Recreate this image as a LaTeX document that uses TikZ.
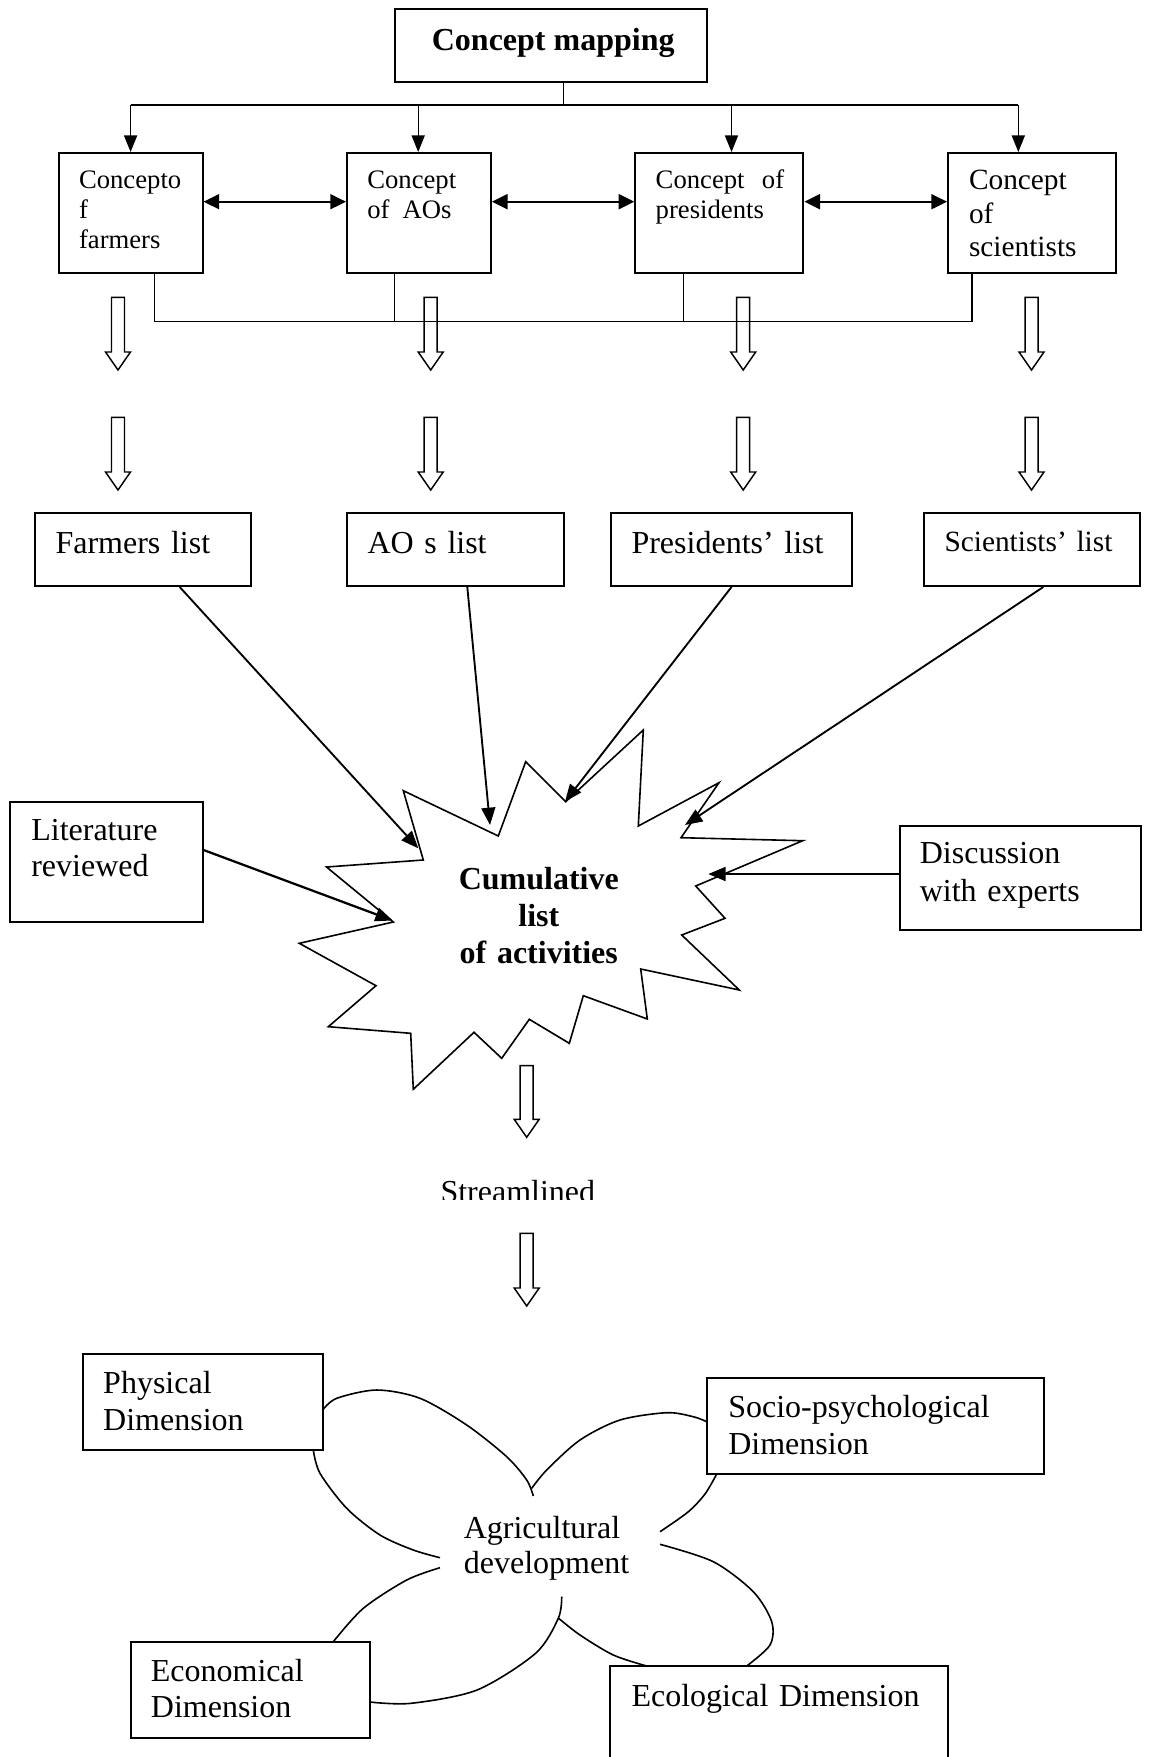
\documentclass[tikz,border=0pt]{standalone}
\usepackage{fontspec}
\setmainfont{Liberation Serif}
\usetikzlibrary{arrows.meta}

% rectangle node from its two corners (picture units)
\newcommand\boxat[5]{%
  \pgfmathsetmacro\bxw{(#4-#2)*0.375}%
  \pgfmathsetmacro\bxh{(#5-#3)*0.375}%
  \node[box, minimum width=\bxw pt, minimum height=\bxh pt] (#1) at ({(#2+#4)/2},{(#3+#5)/2}) {};}

% hollow block arrow pointing down: x, top, tip
\newcommand\hollowarrow[3]{%
  \draw[hollow] ({#1-6.5},#2) -- ({#1+6.5},#2) -- ({#1+6.5},{#3-18}) -- ({#1+12.5},{#3-18})
    -- (#1,#3) -- ({#1-12.5},{#3-18}) -- ({#1-6.5},{#3-18}) -- cycle;}

\begin{document}
\begin{tikzpicture}[x=0.375pt,y=-0.375pt,
  box/.style={draw, line width=0.75pt, fill=white, rectangle, inner sep=0pt},
  txt/.style={inner sep=0pt, anchor=base west, align=left, text width=300pt},
  f10/.style={font=\fontsize{10pt}{11.3pt}\selectfont},
  f11/.style={font=\fontsize{11pt}{12.5pt}\selectfont},
  f12/.style={font=\fontsize{12pt}{13.8pt}\selectfont},
  thin/.style={line width=0.5pt},
  drop/.style={line width=0.5pt, -{Triangle[length=6.2pt,width=4.9pt]}},
  dbl/.style={line width=0.85pt, {Triangle[length=5.9pt,width=5.6pt]}-{Triangle[length=5.9pt,width=5.6pt]}},
  feed/.style={line width=0.7pt, -{Triangle[length=6.5pt,width=5.2pt]}},
  heavyfeed/.style={line width=0.85pt, -{Triangle[length=6.5pt,width=5.2pt]}},
  hollow/.style={line width=0.55pt},
  burst/.style={line width=0.6pt, line join=miter},
  petal/.style={line width=0.6pt}]

\useasboundingbox (0,0) rectangle (1149,1757);
\fill[white] (0,0) rectangle (1149,1757);
\clip (0,0) rectangle (1149,1757);

% ---------- top: concept mapping ----------
\boxat{cm}{394.7}{9.3}{706.5}{81.7}
\node[inner sep=0pt, anchor=base, font=\bfseries\fontsize{12pt}{13.8pt}\selectfont] (t-cm) at (553.2,51) {Concept mapping};

\boxat{c1}{58.7}{153}{202.5}{273.3}
\boxat{c2}{347}{153}{490.8}{273.3}
\boxat{c3}{635.4}{153}{803.4}{273.3}
\boxat{c4}{948}{153}{1116}{273.3}

\node[txt,f10] (t-c1) at (78.5,188.3) {Concepto\\f\\farmers};
\node[txt,f10] (t-c2) at (366.8,188.3) {Concept\\of\hspace{4.9pt}AOs};
\node[txt,f10] (t-c3) at (655.2,188.3) {Concept\hspace{6.5pt}of\\presidents};
\node[txt,f11] (t-c4) at (968.5,190) {Concept\\of\\scientists};

% branching from the concept mapping box
\coordinate (bus) at (563.5,105);
\coordinate (b1) at (130.6,105);
\coordinate (b2) at (418.2,105);
\coordinate (b3) at (731.5,105);
\coordinate (b4) at (1018.3,105);
\draw[thin] (cm.south -| bus) -- (bus);
\draw[thin] (b1) -- (b4);
\draw[drop] (b1) -- (c1.north -| b1);
\draw[drop] (b2) -- (c2.north -| b2);
\draw[drop] (b3) -- (c3.north -| b3);
\draw[drop] (b4) -- (c4.north -| b4);

% links between neighbouring concepts
\draw[dbl] (c1.east |- 0,201.7) -- (c2.west |- 0,201.7);
\draw[dbl] (c2.east |- 0,201.7) -- (c3.west |- 0,201.7);
\draw[dbl] (c3.east |- 0,201.7) -- (c4.west |- 0,201.7);

% joint line under the concepts
\coordinate (j1) at (154.8,321.7);
\coordinate (j2) at (394.7,321.7);
\coordinate (j3) at (683.8,321.7);
\coordinate (j4) at (972,321.7);
\draw[thin] (c1.south -| j1) -- (j1) -- (j4) -- (c4.south -| j4);
\draw[thin] (c2.south -| j2) -- (j2);
\draw[thin] (c3.south -| j3) -- (j3);

% hollow arrows down to the lists
\hollowarrow{118}{297.3}{370}
\hollowarrow{430.7}{297.3}{370}
\hollowarrow{743.2}{297.3}{370}
\hollowarrow{1031.5}{297.3}{370}
\hollowarrow{118}{417.3}{490}
\hollowarrow{430.7}{417.3}{490}
\hollowarrow{743.2}{417.3}{490}
\hollowarrow{1031.5}{417.3}{490}

% ---------- lists ----------
\boxat{farm}{34.5}{513.3}{251}{586}
\boxat{aos}{347}{513.3}{563.5}{586}
\boxat{pres}{611}{513.3}{851.8}{586}
\boxat{sci}{923.7}{513.3}{1140}{586}
\node[txt,f12] (t-farm) at (55,553.3) {Farmers list};
\node[txt,f12] (t-aos) at (367,553.3) {AO s list};
\node[txt,f12] (t-pres) at (631,553.3) {Presidents’ list};
\node[txt,f11] (t-sci) at (944,551.7) {Scientists’ list};

\boxat{lit}{10.3}{801.7}{202.5}{921.7}
\boxat{disc}{899.5}{825.7}{1141}{930}
\node[txt,f12] (t-lit) at (30.8,840) {Literature\\reviewed};
\node[txt,font=\fontsize{12pt}{14.2pt}\selectfont] (t-disc) at (919.3,863.5) {Discussion\\with experts};

% ---------- cumulative list (starburst) ----------
\draw[burst] (403.3,790.7) -- (498.3,836) -- (525.7,761.7) -- (565.7,801.7)
  -- (643.3,730) -- (638.3,826) -- (719,782.7) -- (681,837.7)
  -- (802.7,840.7) -- (695.7,886) -- (725,918.3) -- (681.7,935)
  -- (739.3,990) -- (640.7,969) -- (647.3,1019) -- (583.3,995.7)
  -- (569.3,1043.3) -- (529.3,1019.3) -- (501.7,1058.3) -- (474,1032.3)
  -- (413.3,1089.3) -- (410.7,1033.3) -- (328.3,1026.7) -- (376,985.7)
  -- (299.3,943.3) -- (393.3,922) -- (326.5,867) -- (423.3,860) -- cycle;
\node[inner sep=0pt, anchor=base, align=center, text width=200pt,
  font=\bfseries\fontsize{12pt}{14pt}\selectfont] (t-cum) at (538.8,889.3)
  {Cumulative\\list\\of activities};

\coordinate (tipF) at (418.3,848.3);
\coordinate (tipA) at (490,825);
\coordinate (tipP) at (565,801.7);
\coordinate (tipS) at (685,825);
\coordinate (tipL) at (392.7,920.5);
\coordinate (tipD) at (708.3,874);
\coordinate (xF) at (179.7,0);
\coordinate (xA) at (467.3,0);
\coordinate (xP) at (731.5,0);
\coordinate (xS) at (1043.3,0);
\coordinate (yL) at (0,850);

\draw[feed] (farm.south -| xF) -- (tipF);
\draw[feed] (aos.south -| xA) -- (tipA);
\draw[feed] (pres.south -| xP) -- (tipP);
\draw[feed] (sci.south -| xS) -- (tipS);
\draw[heavyfeed] (lit.east |- yL) -- (tipL);
\draw[heavyfeed] (disc.west |- tipD) -- (tipD);

% ---------- streamlined ----------
\hollowarrow{526.7}{1065.7}{1137.3}
\begin{scope}
  \clip (400,1150) rectangle (660,1199.5);
  \node[txt,f12] (t-stream) at (440,1202) {Streamlined};
\end{scope}
\hollowarrow{526.7}{1233.3}{1306}

% ---------- agricultural development ----------
\draw[petal] plot[smooth] coordinates {(322.7,1410) (336.7,1398.3) (376.7,1390) (420,1398.3)
  (466.7,1425) (506.7,1456.7) (526.7,1480) (533.3,1496)};
\draw[petal] plot[smooth] coordinates {(313.3,1450) (320,1473.3) (346.7,1508.3) (380,1535)
  (413.3,1550) (440,1557.7)};
\draw[petal] plot[smooth] coordinates {(531.7,1488.3) (546.7,1470) (580,1440) (620,1420)
  (666.7,1412.7) (693.3,1416.7) (706.7,1421.7)};
\draw[petal] plot[smooth] coordinates {(716.7,1474) (705,1494) (688,1512) (660,1531.7)};
\draw[petal] plot[smooth] coordinates {(660,1544.3) (713.3,1561.7) (753.3,1591.7)
  (771.7,1621.7) (770,1645) (746.7,1666)};
\draw[petal] plot[smooth] coordinates {(558.3,1618) (580,1635) (613.3,1655) (646.7,1666)};
\draw[petal] plot[smooth] coordinates {(440,1567.7) (406.7,1580) (363.3,1608.3) (333.3,1641.7)};
\draw[petal] plot[smooth] coordinates {(370,1702) (411,1703.3) (477,1690) (535.6,1653.3)
  (558.3,1618.3) (561.7,1596.7)};

\boxat{phys}{82.9}{1354}{322.7}{1450}
\boxat{socio}{706.7}{1377.7}{1044}{1474}
\boxat{econ}{130.6}{1641.7}{370}{1737.7}
\boxat{eco}{610}{1666}{947.9}{1800}

\node[txt,f12] (t-phys) at (102.7,1393.3) {Physical\\Dimension};
\node[txt,f12] (t-socio) at (727.8,1417.7) {Socio-psychological\\Dimension};
\node[txt,f12] (t-econ) at (150.4,1681) {Economical\\Dimension};
\node[txt,f12] (t-eco) at (631,1706.7) {Ecological Dimension};
\node[txt,font=\fontsize{12pt}{13.1pt}\selectfont] (t-agri) at (463.3,1538.3) {Agricultural\\development};

\end{tikzpicture}
\end{document}
